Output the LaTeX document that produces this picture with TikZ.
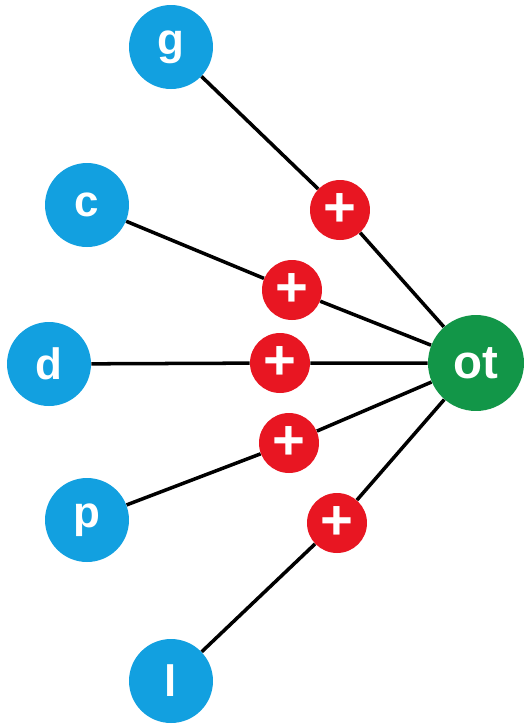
\documentclass[tikz,border=0pt]{standalone}
\usepackage{fontspec}
\setmainfont{Liberation Sans}
\usetikzlibrary{backgrounds}
\definecolor{skyblue}{RGB}{18,160,224}
\definecolor{plusred}{RGB}{232,22,34}
\definecolor{outgreen}{RGB}{18,150,72}

\begin{document}
\begin{tikzpicture}[x=0.02cm,y=-0.02cm,
    input/.style={circle,fill=skyblue,minimum size=16.8mm,inner sep=0pt,text=white,font=\fontsize{25}{25}\selectfont\bfseries},
    adder/.style={circle,fill=plusred,minimum size=12mm,inner sep=0pt,text=white,font=\fontsize{32}{32}\selectfont\bfseries},
    output/.style={circle,fill=outgreen,minimum size=19.2mm,inner sep=0pt,text=white,font=\fontsize{27}{27}\selectfont\bfseries},
    link/.style={black,line width=2pt}]
    \useasboundingbox (0,0) rectangle (530,725);
    % inputs
    \node[input] (g) at (171,47) {g};
    \node[input] (c) at (87,205) {c};
    \node[input] (d) at (49,364) {d};
    \node[input] (p) at (87,520) {p};
    \node[input] (l) at (171,681) {l};
    % output
    \node[output] (ot) at (476,363) {ot};
    % adders
    \node[adder] (ag) at (340,210) {+};
    \node[adder] (ac) at (292,290) {+};
    \node[adder] (ad) at (280,363) {+};
    \node[adder] (ap) at (289,443) {+};
    \node[adder] (al) at (337,523) {+};
    \begin{scope}[on background layer]
      \fill[white] (0,0) rectangle (530,725);
      \foreach \n in {g,c,d,p,l}{ \draw[link] (\n) -- (a\n) -- (ot); }
    \end{scope}
\end{tikzpicture}
\end{document}
